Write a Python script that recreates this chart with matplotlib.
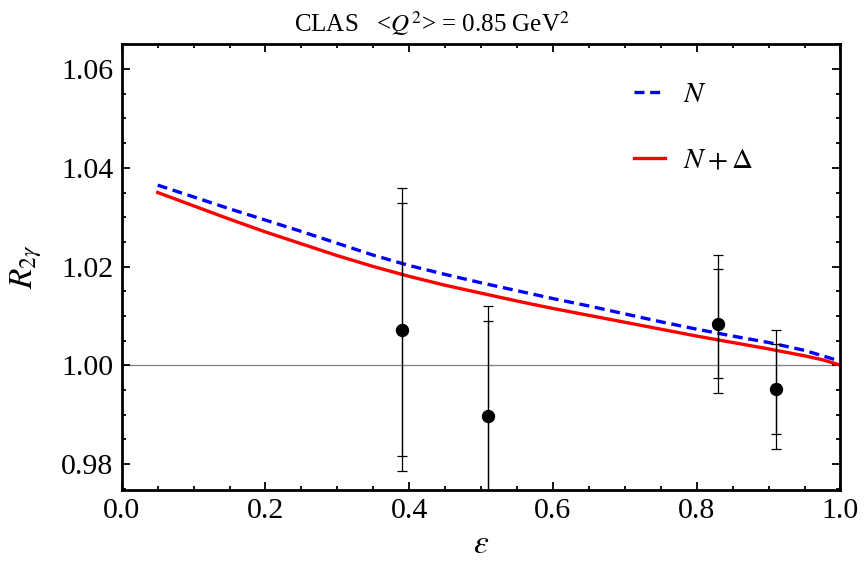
import matplotlib
matplotlib.use("Agg")
import matplotlib.pyplot as plt
from matplotlib.ticker import MultipleLocator

# ---- data ----
eps_curve = [0.05, 0.10, 0.15, 0.20, 0.25, 0.30, 0.35, 0.40, 0.45, 0.50,
             0.55, 0.60, 0.65, 0.70, 0.75, 0.80, 0.85, 0.90, 0.95, 0.975, 1.00]
R_N = [1.0365, 1.0341, 1.0317, 1.0294, 1.0271, 1.0247, 1.0223, 1.0202, 1.0184, 1.0167,
       1.0151, 1.0135, 1.0120, 1.0104, 1.0088, 1.0073, 1.0059, 1.0046, 1.0030, 1.0019, 1.0008]
R_ND = [1.0350, 1.0323, 1.0296, 1.0270, 1.0246, 1.0222, 1.0200, 1.0180, 1.0162, 1.0146,
        1.0130, 1.0115, 1.0101, 1.0087, 1.0073, 1.0059, 1.0046, 1.0033, 1.0019, 1.0011, 1.0000]

eps_data = [0.39, 0.51, 0.83, 0.91]
R_data = [1.0072, 0.9897, 1.0084, 0.9951]
err_stat = [0.0257, 0.0192, 0.0110, 0.0091]
err_tot = [0.0287, 0.0223, 0.0140, 0.0120]

x_ticks = [0.0, 0.2, 0.4, 0.6, 0.8, 1.0]
y_ticks = [0.98, 1.00, 1.02, 1.04, 1.06]

plt.rcParams['font.family'] = ['Liberation Serif', 'DejaVu Serif']
plt.rcParams['mathtext.fontset'] = 'stix'

fig = plt.figure(figsize=(8.64, 5.78), dpi=100)
ax = fig.add_axes([0.1409, 0.1522, 0.9728 - 0.1409, 0.9239 - 0.1522])

ax.axhline(1.0, color='#808080', lw=0.9, zorder=1)

ax.plot(eps_curve, R_N, color='#0000ff', lw=2.4, ls=(0, (3.0, 1.7)), label=r'$N$', zorder=3)
ax.plot(eps_curve, R_ND, color='#ff0000', lw=2.4, ls='-', label=r'$N+\Delta$', zorder=2)

ax.errorbar(eps_data, R_data, yerr=err_tot, fmt='none', ecolor='black',
            elinewidth=0.9, capsize=3.5, capthick=0.9, zorder=4)
ax.errorbar(eps_data, R_data, yerr=err_stat, fmt='o', color='black', ms=8.6,
            ecolor='black', elinewidth=0.9, capsize=3.5, capthick=0.9, zorder=5)

ax.set_xlim(0.0, 1.0)
ax.set_ylim(0.9747, 1.0651)
ax.set_xticks(x_ticks)
ax.set_xticklabels([f"{v:.1f}" for v in x_ticks])
ax.set_yticks(y_ticks)
ax.set_yticklabels([f"{v:.2f}" for v in y_ticks])
ax.xaxis.set_minor_locator(MultipleLocator(0.05))
ax.yaxis.set_minor_locator(MultipleLocator(0.005))
ax.tick_params(which='both', direction='in', top=True, right=True, labelsize=21.5, width=1.3)
ax.tick_params(which='major', length=5.5, pad=6)
ax.tick_params(which='minor', length=3)
for s in ax.spines.values():
    s.set_linewidth(2.0)

ax.set_xlabel(r'$\varepsilon$', fontsize=24, labelpad=4)
ax.set_ylabel(r'$R_{2\gamma}$', fontsize=24, labelpad=12)
fig.text(0.5, 0.960, r'CLAS   <$Q^2$> = 0.85 GeV$^2$', fontsize=18, ha='center', va='center')

leg = ax.legend(loc='upper left', bbox_to_anchor=(0.697, 0.942), frameon=False,
                fontsize=21, handlelength=1.05, handletextpad=0.6, labelspacing=1.35,
                borderaxespad=0)

fig.savefig('out.png', dpi=100)
